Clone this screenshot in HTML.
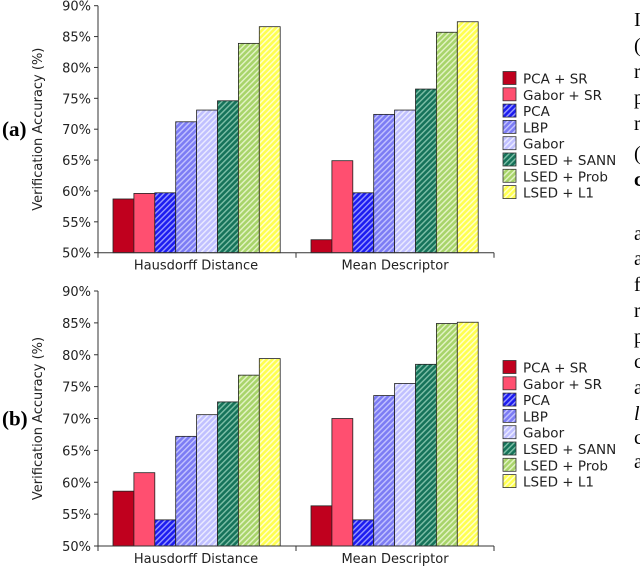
<!DOCTYPE html>
<html><head><meta charset="utf-8"><style>
body{margin:0;background:#fff;width:640px;height:567px;overflow:hidden}
svg{display:block}
text{font-family:"DejaVu Sans","Liberation Sans",sans-serif}
.side{font-family:"Liberation Serif",serif;font-size:20px}
</style></head><body>
<svg id="fig" width="640" height="567">
<defs>
<pattern id="pPCA" width="4" height="4" patternUnits="userSpaceOnUse" patternTransform="rotate(45)"><rect width="4" height="4" fill="#1c1cf0"/><rect width="1.4" height="4" fill="#9a9aff"/></pattern>
<pattern id="pLBP" width="4" height="4" patternUnits="userSpaceOnUse" patternTransform="rotate(45)"><rect width="4" height="4" fill="#7c7cf4"/><rect width="1.4" height="4" fill="#c4c4ff"/></pattern>
<pattern id="pGab" width="4" height="4" patternUnits="userSpaceOnUse" patternTransform="rotate(45)"><rect width="4" height="4" fill="#c0c0ff"/><rect width="1.4" height="4" fill="#ececff"/></pattern>
<pattern id="pSANN" width="4" height="4" patternUnits="userSpaceOnUse" patternTransform="rotate(45)"><rect width="4" height="4" fill="#16735a"/><rect width="1.4" height="4" fill="#7fc0a8"/></pattern>
<pattern id="pProb" width="4" height="4" patternUnits="userSpaceOnUse" patternTransform="rotate(45)"><rect width="4" height="4" fill="#a8d46a"/><rect width="1.4" height="4" fill="#e4f4c8"/></pattern>
<pattern id="pL1" width="4" height="4" patternUnits="userSpaceOnUse" patternTransform="rotate(45)"><rect width="4" height="4" fill="#ffff50"/><rect width="1.4" height="4" fill="#ffffd0"/></pattern>
</defs>
<g id="charts"></g>
<g>
<text class="side" x="634" y="26">I</text><text class="side" x="634" y="52">(</text><text class="side" x="634" y="78">r</text><text class="side" x="634" y="104">p</text><text class="side" x="634" y="130">r</text><text class="side" x="634" y="160">(</text><text class="side" x="634" y="186" font-weight="bold">c</text>
<text class="side" x="634" y="240">a</text><text class="side" x="634" y="265">a</text><text class="side" x="634" y="291">f</text><text class="side" x="634" y="317">r</text><text class="side" x="634" y="343">p</text><text class="side" x="634" y="368">c</text><text class="side" x="634" y="394">a</text><text class="side" x="634" y="420" font-style="italic">l</text><text class="side" x="634" y="444">c</text><text class="side" x="634" y="468">a</text>
</g>
</svg>
<script>
const groups = ["Hausdorff Distance", "Mean Descriptor"];
const methods = ["PCA + SR", "Gabor + SR", "PCA", "LBP", "Gabor", "LSED + SANN", "LSED + Prob", "LSED + L1"];
const valuesA_H = [58.7, 59.6, 59.7, 71.2, 73.1, 74.6, 83.9, 86.6];
const valuesA_M = [52.1, 64.9, 59.7, 72.4, 73.1, 76.5, 85.7, 87.4];
const valuesB_H = [58.6, 61.5, 54.1, 67.2, 70.6, 72.6, 76.8, 79.4];
const valuesB_M = [56.3, 70.0, 54.1, 73.6, 75.5, 78.5, 84.9, 85.1];
const yTicks = ["50%", "55%", "60%", "65%", "70%", "75%", "80%", "85%", "90%"];
const fills = ["#c0001e", "#ff4f70", "url(#pPCA)", "url(#pLBP)", "url(#pGab)", "url(#pSANN)", "url(#pProb)", "url(#pL1)"];
const NS = "http://www.w3.org/2000/svg";
const root = document.getElementById("charts");
function mk(tag, attrs, parent) { const e = document.createElementNS(NS, tag); for (const k in attrs) e.setAttribute(k, attrs[k]); parent.appendChild(e); return e; }

function drawChart(panel, top, bottom, series, label, lgTop) {
  const g = mk("g", {}, root);
  
  
  const x0 = 98, x1 = 494;
  const y = v => bottom - (v - 50) / 40 * (bottom - top);
  // y ticks
  yTicks.forEach((t, i) => {
    const v = 50 + i * 5, yy = y(v);
    mk("line", { x1: x0 - 4, x2: x0, y1: yy, y2: yy, stroke: "#333" }, g);
    const tx = mk("text", { x: x0 - 7, y: yy + 5, "text-anchor": "end", "font-size": "13", fill: "#222" }, g);
    tx.textContent = t;
    
    
  });
  const yt = mk("text", { x: 0, y: 0, transform: `translate(42,${(top + bottom) / 2}) rotate(-90)`, "text-anchor": "middle", "font-size": "13", fill: "#222" }, g);
  yt.textContent = "Verification Accuracy (%)";
  
  
  const pl = mk("text", { x: 2, y: (top + bottom) / 2 + 7, "font-size": "21", "font-weight": "bold", style: "font-family:'Liberation Serif',serif" }, g);
  pl.textContent = label;
  
  
  // bars
  const bw = 20.9, gStart = [113, 311];
  series.forEach((vals, gi) => {
    vals.forEach((v, i) => {
      const r = mk("rect", { x: gStart[gi] + i * bw, y: y(v), width: bw, height: bottom - y(v), fill: fills[i], stroke: "#222", "stroke-width": "0.8" }, g);
      
      
    });
    const gl = mk("text", { x: [196, 395][gi], y: bottom + 17, "text-anchor": "middle", "font-size": "13", fill: "#222" }, g);
    gl.textContent = groups[gi];
    
    
  });
  // axes
  mk("line", { x1: x0, x2: x0, y1: top, y2: bottom, stroke: "#333" }, g);
  mk("line", { x1: x0, x2: x1, y1: bottom, y2: bottom, stroke: "#333" }, g);
  [x0, 296, x1].forEach(xx => mk("line", { x1: xx, x2: xx, y1: bottom, y2: bottom + 5, stroke: "#333" }, g));
  // legend
  const lg = mk("g", {}, g);
  
  
  methods.forEach((m, i) => {
    const yy = lgTop + i * 16.3;
    const sw = mk("rect", { x: 503, y: yy, width: 13, height: 13, fill: fills[i], stroke: "#333", "stroke-width": "0.8" }, lg);
    
    
    const t = mk("text", { x: 523, y: yy + 12, "font-size": "13.5", fill: "#222" }, lg);
    t.textContent = m;
    
    
  });
}
drawChart("a", 5.7, 252.7, [valuesA_H, valuesA_M], "(a)", 71.5);
drawChart("b", 291, 546, [valuesB_H, valuesB_M], "(b)", 360.5);
</script>
</body></html>
